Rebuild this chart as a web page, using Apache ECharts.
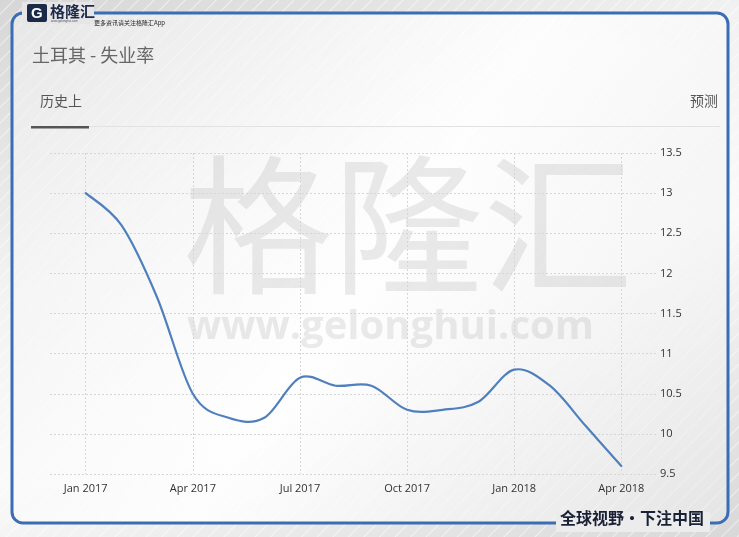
<!DOCTYPE html>
<html><head><meta charset="utf-8">
<script src="https://cdn.jsdelivr.net/npm/echarts@6/dist/echarts.min.js"></script>
<style>
html,body{margin:0;padding:0;}
body{width:739px;height:537px;overflow:hidden;
background:repeating-linear-gradient(135deg, rgba(255,255,255,0.0) 0px, rgba(255,255,255,0.0) 9px, rgba(255,255,255,0.55) 10px, rgba(255,255,255,0.0) 11px), linear-gradient(160deg,#d6d6d6 0%,#f2f2f2 35%,#fafafa 60%,#d8d8d8 100%);}
#c{width:739px;height:537px;}
</style></head><body>
<div id="c"></div>
<script>
const categories = ['Dec 2016','Jan 2017','Feb 2017','Mar 2017','Apr 2017','May 2017','Jun 2017','Jul 2017','Aug 2017','Sep 2017','Oct 2017','Nov 2017','Dec 2017','Jan 2018','Feb 2018','Mar 2018','Apr 2018','May 2018'];
const unemployment = [null,13.0,12.6,11.7,10.5,10.2,10.2,10.7,10.6,10.6,10.3,10.3,10.4,10.8,10.6,10.1,9.6,null];
const yTicks = {min:9.5, max:13.5, interval:0.5};

const chart = echarts.init(document.getElementById('c'));
const showIdx = i => i>0 && (i-1)%3===0;

// Catmull-Rom spline through the points, positioned by the chart's own scales (api.coord)
function renderSpline(params, api){
  if (params.dataIndex !== 0) return;
  const pts = [];
  unemployment.forEach((v,i)=>{ if(v!==null) pts.push(api.coord([i, v])); });
  let d = 'M' + pts[0][0] + ' ' + pts[0][1];
  for (let i=0;i<pts.length-1;i++){
    const p0 = pts[Math.max(0,i-1)], p1 = pts[i], p2 = pts[i+1], p3 = pts[Math.min(pts.length-1,i+2)];
    const c1x = p1[0] + (p2[0]-p0[0])/6, c1y = p1[1] + (p2[1]-p0[1])/6;
    const c2x = p2[0] - (p3[0]-p1[0])/6, c2y = p2[1] - (p3[1]-p1[1])/6;
    d += ' C' + c1x + ' ' + c1y + ' ' + c2x + ' ' + c2y + ' ' + p2[0] + ' ' + p2[1];
  }
  return {type:'path', shape:{pathData:d}, style:{fill:null, stroke:'#4f80bd', lineWidth:2.2, lineJoin:'round', lineCap:'round'}};
}

chart.setOption({
  backgroundColor:'transparent',
  animation:false,
  grid:{left:50,right:82,top:153,bottom:63},
  xAxis:{type:'category',data:categories,boundaryGap:false,
    axisLine:{show:false},axisTick:{show:false},
    axisLabel:{interval:(i)=>showIdx(i),color:'#333',fontSize:11,margin:9,fontFamily:'Open Sans, sans-serif'},
    splitLine:{show:true,interval:(i)=>showIdx(i),lineStyle:{color:'#d6d6d6',type:[2,2],width:1}}},
  yAxis:{type:'value',position:'right',min:yTicks.min,max:yTicks.max,interval:yTicks.interval,
    axisLine:{show:false},axisTick:{show:false},
    axisLabel:{color:'#333',fontSize:11,margin:3,fontFamily:'Open Sans, sans-serif',formatter:v=>String(v)},
    splitLine:{lineStyle:{color:'#d6d6d6',type:[2,2],width:1}}},
  series:[{type:'custom',renderItem:renderSpline,z:5,
    data:unemployment.map((v,i)=>[i,v]).filter(p=>p[1]!==null)}],
  graphic:[
    {type:'rect',z:-10,shape:{x:12,y:13,width:716,height:510,r:11},style:{fill:new echarts.graphic.LinearGradient(0,0,1,1,[{offset:0,color:'rgba(240,240,240,0.6)'},{offset:0.5,color:'rgba(255,255,255,0.85)'},{offset:1,color:'rgba(235,235,235,0.6)'}]),stroke:'#3a6db3',lineWidth:3}},
    {type:'rect',z:-5,shape:{x:22,y:2,width:72,height:22},style:{fill:'#e6e6e6'}},
    {type:'rect',z:-4,shape:{x:27,y:4,width:20,height:18,r:2},style:{fill:'#1c2a4a'}},
    {type:'text',z:-3,left:31,top:6,style:{text:'G',fill:'#fff',font:'bold 15px Arial'}},
    {type:'text',z:-3,left:50,top:4,style:{text:'格隆汇',fill:'#1c2a4a',font:'bold 15px "Noto Sans CJK SC"'}},
    {type:'text',z:-3,left:51,top:20,style:{text:'www.gelonghui.com',fill:'#555',font:'3px Arial'}},
    {type:'text',z:-3,left:94,top:20,style:{text:'更多资讯请关注格隆汇App',fill:'#222',font:'6px "Noto Sans CJK SC"'}},
    {type:'text',z:-8,left:183,top:150,style:{text:'格隆汇',fill:'rgba(170,170,170,0.25)',font:'150px "Noto Sans CJK SC"'}},
    {type:'text',z:-8,left:187,top:308,style:{text:'www.gelonghui.com',fill:'rgba(170,170,170,0.25)',font:'bold 40px "Open Sans", Arial'}},
    {type:'text',left:32,top:46,style:{text:'土耳其 - 失业率',fill:'#666',font:'18px "Noto Sans CJK SC"'}},
    {type:'text',left:40,top:94,style:{text:'历史上',fill:'#555',font:'14px "Noto Sans CJK SC"'}},
    {type:'text',left:690,top:94,style:{text:'预测',fill:'#555',font:'14px "Noto Sans CJK SC"'}},
    {type:'rect',shape:{x:31,y:126,width:689,height:1},style:{fill:'#e2e2e2'}},
    {type:'rect',shape:{x:31,y:126,width:58,height:2.5},style:{fill:'#555'}},
    {type:'rect',shape:{x:556,y:512,width:154,height:20},style:{fill:'#ececec'}},
    {type:'text',left:560,top:510,style:{text:'全球视野・下注中国',fill:'#1a2136',font:'bold 16px "Noto Sans CJK SC"'}}
  ]
});
</script>
</body></html>
